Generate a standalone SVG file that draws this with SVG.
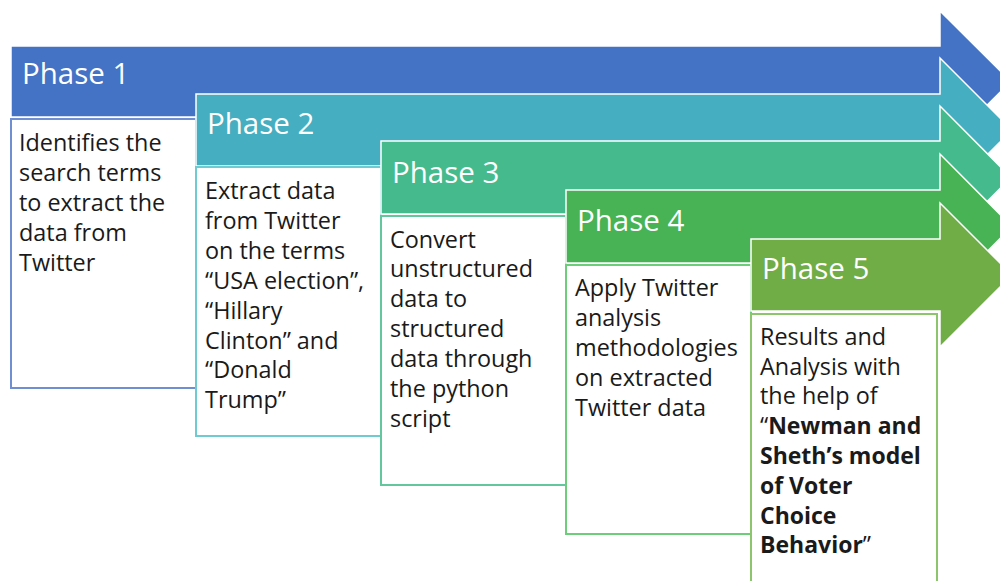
<svg xmlns="http://www.w3.org/2000/svg" width="1000" height="581" viewBox="0 0 1000 581">
<style>
.arrow{stroke:#fff;stroke-width:1.5;stroke-linejoin:miter}
.box{fill:#fff;stroke-width:2}
.ph{font-family:"Open Sans","Liberation Sans",sans-serif;font-size:29.5px;fill:#fff}
.tx{font-family:"Open Sans","Liberation Sans",sans-serif;font-size:23.4px;fill:#1a1a1a}
.b{font-weight:bold;font-size:23px}
</style>
<rect width="1000" height="581" fill="#fff"/>
<g id="phase1">
<polygon class="arrow" fill="#4472C4" points="11,46 940,46 940,11 1011,81.5 940,152 940,117 11,117"/>
<rect class="box" stroke="#6F8FD2" x="11" y="119" width="185" height="269"/>
<text class="ph" x="22" y="84">Phase 1</text>
<text class="tx" x="19"><tspan x="19" y="151">Identifies the</tspan><tspan x="19" y="181">search terms</tspan><tspan x="19" y="211">to extract the</tspan><tspan x="19" y="241">data from</tspan><tspan x="19" y="271">Twitter</tspan></text>
</g>
<g id="phase2">
<polygon class="arrow" fill="#45AEC0" points="196,94 940,94 940,58 1012,130 940,202 940,166 196,166"/>
<rect class="box" stroke="#6ECBD2" x="196" y="167" width="185" height="269"/>
<text class="ph" x="207" y="134">Phase 2</text>
<text class="tx"><tspan x="205" y="199">Extract data</tspan><tspan x="205" y="229">from Twitter</tspan><tspan x="205" y="259">on the terms</tspan><tspan x="205" y="289">“USA election”,</tspan><tspan x="205" y="319">“Hillary</tspan><tspan x="205" y="349">Clinton” and</tspan><tspan x="205" y="378">“Donald</tspan><tspan x="205" y="408">Trump”</tspan></text>
</g>
<g id="phase3">
<polygon class="arrow" fill="#45BB8D" points="381,141 940,141 940,106 1011,177.5 940,249 940,214 381,214"/>
<rect class="box" stroke="#62C79D" x="381" y="216" width="185" height="269"/>
<text class="ph" x="392" y="183">Phase 3</text>
<text class="tx"><tspan x="390" y="248">Convert</tspan><tspan x="390" y="277">unstructured</tspan><tspan x="390" y="307">data to</tspan><tspan x="390" y="337">structured</tspan><tspan x="390" y="367">data through</tspan><tspan x="390" y="397">the python</tspan><tspan x="390" y="427">script</tspan></text>
</g>
<g id="phase4">
<polygon class="arrow" fill="#47B354" points="566,190 940,190 940,154 1012,226.5 940,299 940,263 566,263"/>
<rect class="box" stroke="#6CCD7A" x="566" y="265" width="185" height="269"/>
<text class="ph" x="577" y="231">Phase 4</text>
<text class="tx"><tspan x="575" y="296">Apply Twitter</tspan><tspan x="575" y="326">analysis</tspan><tspan x="575" y="356">methodologies</tspan><tspan x="575" y="386">on extracted</tspan><tspan x="575" y="416">Twitter data</tspan></text>
</g>
<g id="phase5">
<polygon class="arrow" fill="#70AD47" points="751,239 940,239 940,203 1012,275 940,347 940,311 751,311"/>
<rect class="box" stroke="#8CC66C" x="751" y="314" width="186" height="300"/>
<text class="ph" x="762" y="279">Phase 5</text>
<text class="tx"><tspan x="760" y="345">Results and</tspan><tspan x="760" y="375">Analysis with</tspan><tspan x="760" y="404">the help of</tspan><tspan x="760" y="434">“<tspan class="b">Newman and</tspan></tspan><tspan class="b" x="760" y="464">Sheth’s model</tspan><tspan class="b" x="760" y="494">of Voter</tspan><tspan class="b" x="760" y="524">Choice</tspan><tspan x="760" y="553"><tspan class="b">Behavior</tspan>”</tspan></text>
</g>
<g id="connectors"></g>
</svg>
